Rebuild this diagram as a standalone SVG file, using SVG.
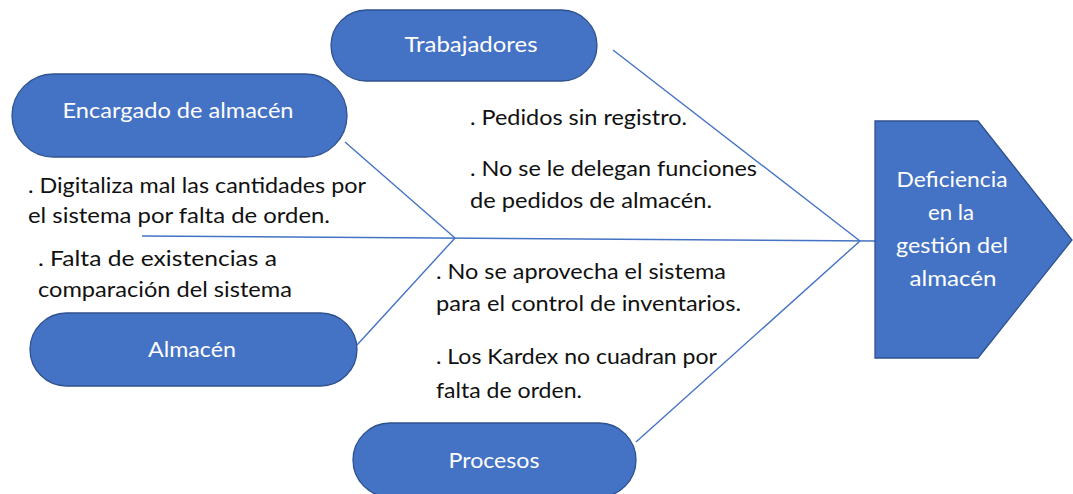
<svg xmlns="http://www.w3.org/2000/svg" width="1073" height="494" viewBox="0 0 1073 494">
<style>
.pill{fill:#4472C4;stroke:#2F528F;stroke-width:1.3}
.lbl{font-family:Lato,"Liberation Sans",sans-serif;font-size:21px;fill:#FFFFFF;text-anchor:middle}
.txt{font-family:Lato,"Liberation Sans",sans-serif;font-size:20.5px;fill:#111111}
.ln{stroke:#4472C4;stroke-width:1.4;fill:none}
</style>
<rect width="1073" height="494" fill="#FFFFFF"/>
<g id="connectors">
<line class="ln" x1="142" y1="236" x2="875" y2="241"/>
<line class="ln" x1="345" y1="142" x2="455" y2="238"/>
<line class="ln" x1="455" y1="238" x2="357" y2="345"/>
<line class="ln" x1="613" y1="50" x2="860" y2="241"/>
<line class="ln" x1="636" y1="442" x2="860" y2="241"/>
</g>
<g id="encargado">
<rect class="pill" x="12" y="74" width="335" height="83" rx="41.5"/>
<text class="lbl" x="178" y="118" textLength="231" lengthAdjust="spacingAndGlyphs">Encargado de almacén</text>
</g>
<g id="trabajadores">
<rect class="pill" x="331" y="10" width="266" height="71" rx="35.5"/>
<text class="lbl" x="471" y="52" textLength="133" lengthAdjust="spacingAndGlyphs">Trabajadores</text>
</g>
<g id="almacen">
<rect class="pill" x="30" y="313" width="327" height="73" rx="36.5"/>
<text class="lbl" x="192" y="357" textLength="88" lengthAdjust="spacingAndGlyphs">Almacén</text>
</g>
<g id="procesos">
<rect class="pill" x="353" y="423" width="283" height="74" rx="37"/>
<text class="lbl" x="494" y="468" textLength="91" lengthAdjust="spacingAndGlyphs">Procesos</text>
</g>
<g id="deficiencia">
<polygon class="pill" points="875,121 978,121 1072,240 978,358 875,358"/>
<text class="lbl" x="952" y="187" textLength="111" lengthAdjust="spacingAndGlyphs">Deficiencia</text>
<text class="lbl" x="951" y="220" textLength="46" lengthAdjust="spacingAndGlyphs">en la</text>
<text class="lbl" x="952" y="253" textLength="112" lengthAdjust="spacingAndGlyphs">gestión del</text>
<text class="lbl" x="953" y="286" textLength="87" lengthAdjust="spacingAndGlyphs">almacén</text>
</g>
<g id="texts">
<text class="txt" x="28" y="193" textLength="338" lengthAdjust="spacingAndGlyphs">. Digitaliza mal las cantidades por</text>
<text class="txt" x="28" y="223" textLength="302" lengthAdjust="spacingAndGlyphs">el sistema por falta de orden.</text>
<text class="txt" x="38" y="266" textLength="239" lengthAdjust="spacingAndGlyphs">. Falta de existencias a</text>
<text class="txt" x="38" y="297" textLength="254" lengthAdjust="spacingAndGlyphs">comparación del sistema</text>
<text class="txt" x="470" y="125" textLength="217" lengthAdjust="spacingAndGlyphs">. Pedidos sin registro.</text>
<text class="txt" x="470" y="176" textLength="287" lengthAdjust="spacingAndGlyphs">. No se le delegan funciones</text>
<text class="txt" x="470" y="208" textLength="242" lengthAdjust="spacingAndGlyphs">de pedidos de almacén.</text>
<text class="txt" x="436" y="279" textLength="290" lengthAdjust="spacingAndGlyphs">. No se aprovecha el sistema</text>
<text class="txt" x="436" y="311" textLength="305" lengthAdjust="spacingAndGlyphs">para el control de inventarios.</text>
<text class="txt" x="436" y="364" textLength="281" lengthAdjust="spacingAndGlyphs">. Los Kardex no cuadran por</text>
<text class="txt" x="436" y="398" textLength="146" lengthAdjust="spacingAndGlyphs">falta de orden.</text>
</g>
</svg>
